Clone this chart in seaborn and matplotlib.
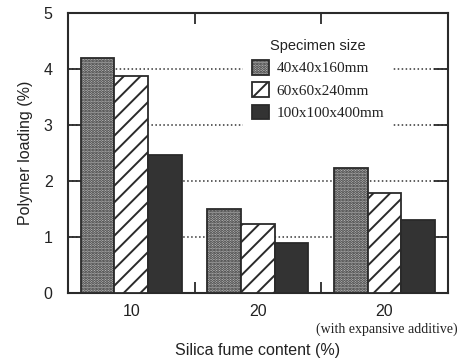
import matplotlib
matplotlib.use("Agg")
import matplotlib.pyplot as plt
from matplotlib.patches import Patch
from matplotlib.transforms import blended_transform_factory
import seaborn as sns
import pandas as pd

# Polymer loading by silica fume content and specimen size
groups = ["10", "20", "20*"]
group_labels = ["10", "20", "20"]
sizes = ["40x40x160mm", "60x60x240mm", "100x100x400mm"]
loading_small = [4.2, 1.5, 2.23]
loading_medium = [3.88, 1.23, 1.79]
loading_large = [2.46, 0.89, 1.30]

rows = []
for size, vals in zip(sizes, [loading_small, loading_medium, loading_large]):
    for g, v in zip(groups, vals):
        rows.append({"group": g, "size": size, "loading": v})
df = pd.DataFrame(rows)

sns.set_style("white")
plt.rcParams["font.family"] = ["Liberation Sans", "DejaVu Sans"]
plt.rcParams["hatch.linewidth"] = 1.4

fig = plt.figure(figsize=(4.65, 3.62), dpi=100)
ax = fig.add_axes([0.146, 0.191, 0.817, 0.773])

edge = "#2a2a2a"
styles = {
    "40x40x160mm": dict(facecolor="#bdbdbd", hatch="......"),
    "60x60x240mm": dict(facecolor="white", hatch="//"),
    "100x100x400mm": dict(facecolor="#333333", hatch=None),
}

sns.barplot(data=df, x="group", y="loading", hue="size", order=groups,
            hue_order=sizes, width=0.8, ax=ax, legend=False,
            edgecolor=edge, linewidth=1.3, saturation=1, zorder=3)

n = len(groups)
for i, size in enumerate(sizes):
    st = styles[size]
    for bar in ax.patches[i * n:(i + 1) * n]:
        bar.set_facecolor(st["facecolor"])
        bar.set_edgecolor(edge)
        if st["hatch"]:
            bar.set_hatch(st["hatch"])

ax.set_ylim(0, 5)
ax.set_xlim(-0.5, 2.5)
ax.set_yticks([0, 1, 2, 3, 4, 5])
ax.set_xticks(range(n))
ax.set_xticklabels(group_labels)
ax.set_xticks([0.5, 1.5], minor=True)

ax.tick_params(axis="y", which="major", direction="in", length=10, width=1.3,
               color=edge, right=True, left=True, pad=11, labelsize=11.5)
ax.tick_params(axis="x", which="major", length=0, pad=8, labelsize=11.5)
ax.tick_params(axis="x", which="minor", direction="in", length=8, width=1.3,
               color=edge, top=True, bottom=True)

for lab in ax.get_yticklabels() + ax.get_xticklabels():
    lab.set_color("#222222")

ax.yaxis.grid(True, linestyle=(0, (1, 1.6)), color="#333333", linewidth=1.1, zorder=0)
ax.set_axisbelow(True)
ax.xaxis.grid(False)
# keep the outermost grid lines off the frame
ax.get_ygridlines()[0].set_visible(False)
ax.get_ygridlines()[-1].set_visible(False)

for sp in ax.spines.values():
    sp.set_visible(True)
    sp.set_color(edge)
    sp.set_linewidth(1.5)

ax.set_ylabel("Polymer loading (%)", fontsize=11.5, color="#222222", labelpad=8)
ax.set_xlabel("Silica fume content (%)", fontsize=11.5, color="#222222", labelpad=17)

trans = blended_transform_factory(ax.transData, ax.transAxes)
ax.text(2.02, -0.105, "(with expansive additive)", transform=trans, ha="center",
        va="top", fontsize=10, family=["Liberation Serif"], color="#222222")

handles = [Patch(facecolor=styles[s]["facecolor"], edgecolor=edge,
                 hatch=styles[s]["hatch"], linewidth=1.3, label=s) for s in sizes]
leg = ax.legend(handles=handles, title="Specimen size", loc="upper left",
                bbox_to_anchor=(0.46, 0.94), frameon=True, framealpha=1,
                facecolor="white", edgecolor="none", fancybox=False,
                prop={"family": "Liberation Serif", "size": 11},
                title_fontsize=10.5, handlelength=1.1, handleheight=1.1,
                handletextpad=0.5, labelspacing=0.45, borderpad=0.6,
                borderaxespad=0)
leg.get_title().set_color("#222222")
leg.set_zorder(4)
for t in leg.get_texts():
    t.set_color("#222222")

fig.savefig("out.png", dpi=100)
